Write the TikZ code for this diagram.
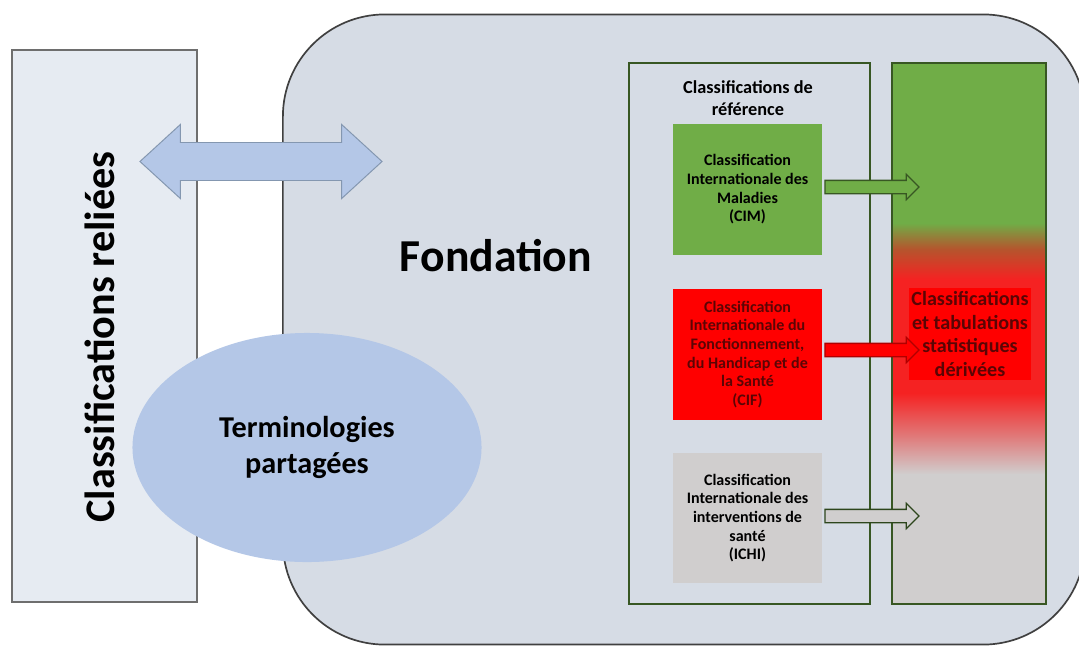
\documentclass[tikz,border=0pt]{standalone}
\usepackage{fontspec}
\setmainfont{Carlito}
\usetikzlibrary{shapes.geometric,shapes.arrows}

\definecolor{fondfill}{HTML}{D6DCE5}
\definecolor{fondedge}{HTML}{404040}
\definecolor{relfill}{HTML}{E6EBF2}
\definecolor{reledge}{HTML}{6E6E6E}
\definecolor{termblue}{HTML}{B4C7E7}
\definecolor{linkedge}{HTML}{8497B0}
\definecolor{cimgreen}{HTML}{70AD47}
\definecolor{framegreen}{HTML}{385723}
\definecolor{cifred}{HTML}{FF0000}
\definecolor{cifedge}{HTML}{B00000}
\definecolor{ichigray}{HTML}{D0CECE}
\definecolor{gradred}{HTML}{F52222}
\definecolor{gradbrown}{HTML}{B5552D}
\definecolor{gradpink}{HTML}{E07A7A}
\definecolor{textred}{HTML}{5A0505}

\pgfdeclareverticalshading{derivshade}{100bp}{color(0bp)=(ichigray); color(37bp)=(ichigray); color(40.5bp)=(gradpink); color(44.5bp)=(gradred); color(55bp)=(gradred); color(57.8bp)=(gradbrown); color(60.2bp)=(cimgreen); color(100bp)=(cimgreen)}

\begin{document}
\begin{tikzpicture}[x=0.025cm, y=-0.025cm,
    every node/.style={font=\bfseries},
    classbox/.style={minimum width=3.725cm, minimum height=3.25cm, align=center, inner sep=0pt,
        font=\fontsize{11.4}{13.3}\selectfont\bfseries},
    frame/.style={draw=framegreen, line width=1.1pt, minimum height=13.525cm, inner sep=0pt},
    flowarrow/.style={single arrow, single arrow head extend=0.15cm, inner xsep=0pt,
        inner ysep=0.15cm, minimum height=2.35cm, line width=0.9pt}]
    \useasboundingbox (0,0) rectangle (1079,645);

    \node[fill=fondfill, draw=fondedge, line width=1.2pt, rounded corners=2.55cm,
        minimum width=20.05cm, minimum height=15.75cm, inner sep=0pt] (fond) at (684,329.5) {};
    \node[fill=relfill, draw=reledge, line width=0.9pt, minimum width=4.625cm,
        minimum height=13.8cm, inner sep=0pt] (related) at (104.5,326) {};
    \node[rotate=90, font=\fontsize{30}{36}\selectfont\bfseries] (relatedtext) at (100,337) {Classifications reliées};

    \node[double arrow, double arrow head extend=0.45cm, double arrow tip angle=85,
        minimum height=6.05cm, inner xsep=0pt, inner ysep=0.4625cm,
        fill=termblue, draw=linkedge, line width=0.7pt] (link) at (261,161.5) {};

    \node[ellipse, fill=termblue, minimum width=8.725cm, minimum height=5.725cm, inner sep=0pt,
        align=center, font=\fontsize{21.5}{26.2}\selectfont\bfseries] (shared) at (307,447.5)
        {Terminologies\\partagées};

    \node[font=\fontsize{32.5}{38}\selectfont\bfseries] (fondtext) at (496,256) {Fondation};

    \node[frame, minimum width=6.025cm] (ref) at (749.5,333.5) {};
    \node[align=center, font=\fontsize{13}{15.6}\selectfont\bfseries] (reftitle) at (748,98)
        {Classifications de\\référence};

    \node[frame, minimum width=3.85cm, shading=derivshade] (deriv) at (969,333.5) {};
    \node[fill=cifred, align=center, inner sep=2pt, text=textred,
        font=\fontsize{14.3}{17}\selectfont\bfseries] (derivtext) at (970,334)
        {Classifications\\et tabulations\\statistiques\\dérivées};

    \node[classbox, fill=cimgreen] (cim) at (747.5,189.5)
        {Classification\\Internationale des\\Maladies\\(CIM)};
    \node[classbox, fill=cifred, text=textred] (cif) at (747.5,354.5)
        {Classification\\Internationale du\\Fonctionnement,\\du Handicap et de\\la Santé\\(CIF)};
    \node[classbox, fill=ichigray] (ichi) at (747.5,518)
        {Classification\\Internationale des\\interventions de\\santé\\(ICHI)};

    \coordinate (cimtip) at (915,187);
    \coordinate (ciftip) at (915,350);
    \coordinate (ichitip) at (915,516);
    \path (cim.east |- cimtip) -- (cimtip) node[midway, flowarrow, fill=cimgreen, draw=framegreen] {};
    \path (cif.east |- ciftip) -- (ciftip) node[midway, flowarrow, fill=cifred, draw=cifedge] {};
    \path (ichi.east |- ichitip) -- (ichitip) node[midway, flowarrow, fill=ichigray, draw=framegreen!80!black] {};
\end{tikzpicture}
\end{document}
